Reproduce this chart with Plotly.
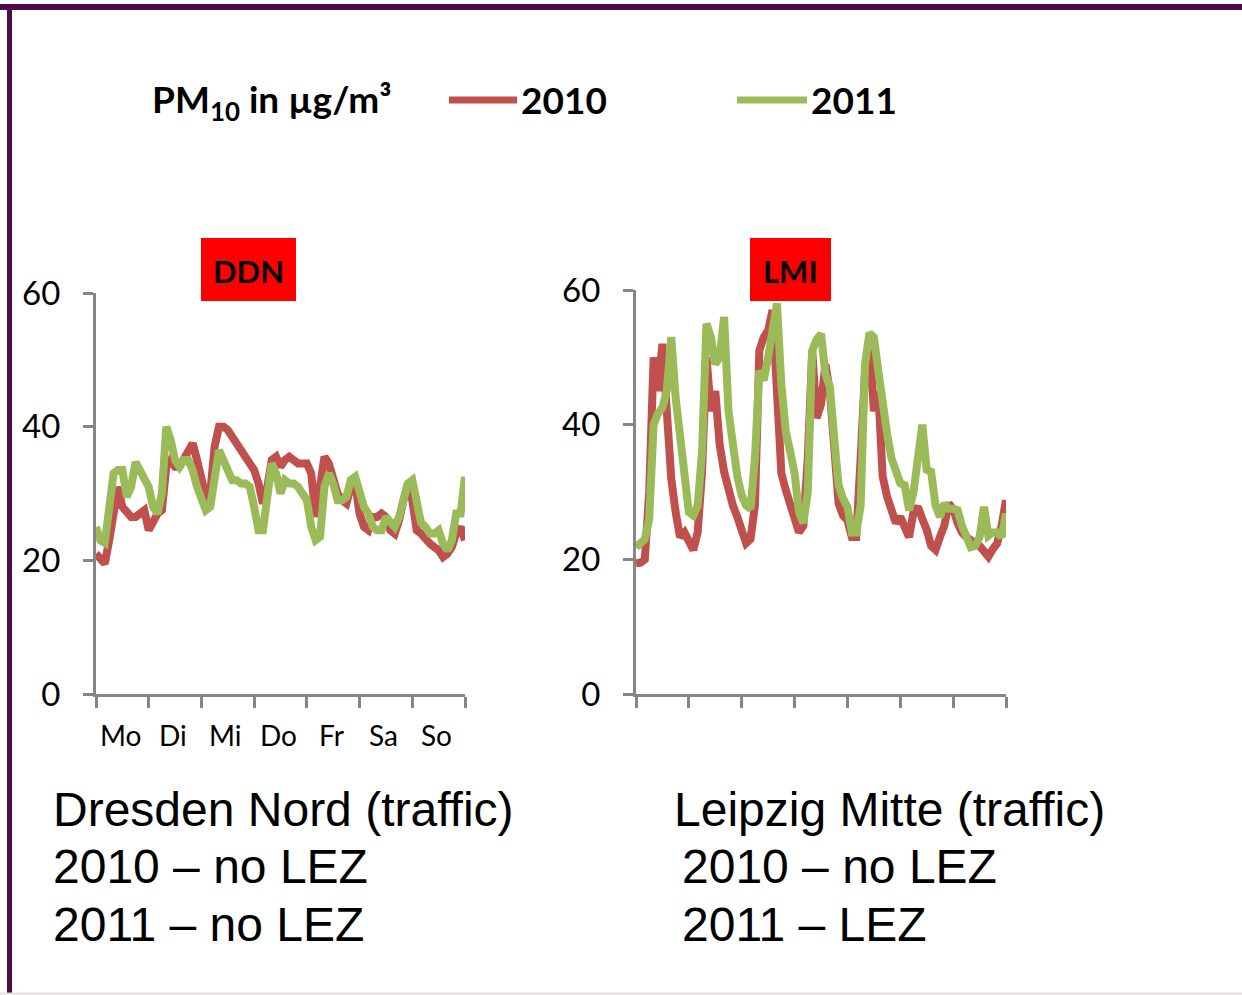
import plotly.graph_objects as go

W, H = 1242, 995

hours = list(range(0, 169, 2))
day_labels = ["Mo", "Di", "Mi", "Do", "Fr", "Sa", "So"]
day_centers = [12, 36, 60, 84, 108, 132, 156]
day_ticks = [0, 24, 48, 72, 96, 120, 144, 168]
y_ticks = [0, 20, 40, 60]

ddn_2010 = [21, 20, 19.5, 23, 28, 31, 28, 27, 26.5, 26.5,
            27, 27.5, 24.5, 26, 27, 27.5, 34, 35, 34, 34,
            35, 36.5, 37.5, 35, 32, 29.5, 30, 37, 40, 40,
            39.5, 38.5, 38, 37, 36, 35, 33.5, 31.5, 28.5, 31,
            35, 35.5, 34, 35, 35.5, 35, 34.5, 34.5, 34.5, 33,
            26.5, 31, 35.5, 34.5, 32, 30, 29, 28.5, 31, 31.5,
            27, 25, 24.5, 26.5, 26.5, 27, 26.5, 24.5, 24, 26,
            29, 31.5, 29, 24.5, 24, 23, 22.5, 22, 21.5, 20.5,
            21, 22, 24, 25, 23]
ddn_2011 = [25, 23, 22.6, 27, 33, 33.5, 33.5, 29.5, 31, 34.7,
            33.5, 32.5, 31, 28, 27, 30, 40, 38, 35, 34,
            35, 35, 33.5, 31, 29.5, 27.5, 28, 33, 36.5, 35,
            33.5, 32, 32, 31.5, 31.5, 31, 28, 24.5, 24.5, 30,
            34.5, 33, 30, 32, 31.5, 31.5, 31, 30, 29, 25,
            23, 23.5, 31, 33, 31.5, 29, 29, 29.5, 32, 32.5,
            30, 28, 27, 25, 24.5, 24.5, 26.5, 25.5, 25, 26.5,
            29, 31.5, 32, 28, 25.6, 25, 24, 24, 24.5, 22.5,
            21.5, 23, 27, 27, 32.5]
lmi_2010 = [19.4, 19.5, 20, 30, 50, 45, 52, 42, 32, 27,
            23.3, 24, 22.5, 21.4, 24, 33, 50, 42, 45, 37,
            33, 30.3, 28, 26.3, 24, 22.4, 23, 28, 51, 53,
            54, 57, 45, 32.8, 30.3, 28, 26.3, 24, 25, 35,
            51, 41, 43, 49, 45, 34.3, 28.3, 26.5, 25.8, 23.3,
            23.3, 35, 48, 52.6, 42, 45, 32.3, 29.3, 27, 25.4,
            26.3, 24.5, 23.3, 27, 27.8, 26, 24.4, 22, 21.4, 23.3,
            25, 28.3, 27.5, 25.4, 24, 23.3, 23, 22.4, 22, 21,
            20.4, 21.5, 22.4, 25, 28.8]
lmi_2011 = [21.8, 22.5, 23, 26, 40, 41.7, 42.5, 45, 53, 44,
            37.5, 33.7, 27, 26.5, 28, 36, 55, 53, 49, 50,
            56, 42, 37, 32.3, 29.5, 28, 27.5, 35, 48, 46.6,
            50, 54, 58, 46, 39, 36, 32.8, 27, 25.4, 30,
            51, 52.6, 53.5, 47.5, 45.6, 38, 31, 29, 27.8, 24,
            24, 28, 49, 53.6, 53, 48, 42.5, 38.7, 35, 33,
            31.3, 31, 27.3, 30, 35, 40, 33.3, 33, 28, 26.3,
            28.3, 27.5, 27.5, 27.3, 25, 23.3, 21.8, 22, 23.3, 27.8,
            23.5, 24, 24, 23.3, 26.8]

RED = "#C0504D"
GREEN = "#9BBB59"
AXIS = "#868686"
PURPLE = "#4F0B47"
LW = 8


def px(x):
    return x / W


def py(y):
    return 1 - y / H


fig = go.Figure()
for xs, ys, col, xa, ya in [(hours, ddn_2010, RED, "x", "y"), (hours, ddn_2011, GREEN, "x", "y"),
                            (hours, lmi_2010, RED, "x2", "y2"), (hours, lmi_2011, GREEN, "x2", "y2")]:
    fig.add_trace(go.Scatter(x=xs, y=ys, mode="lines",
                             line=dict(color=col, width=LW, shape="linear"),
                             xaxis=xa, yaxis=ya, showlegend=False, hoverinfo="skip"))

tickfont = dict(family="Lato, 'Open Sans', sans-serif", size=33, color="#000000")

xcommon = dict(range=[0, 168], tickvals=day_ticks, showticklabels=False, ticks="outside",
               ticklen=11, tickwidth=3, tickcolor=AXIS, showline=True, linecolor=AXIS,
               linewidth=3, showgrid=False, zeroline=False, fixedrange=True, automargin=False)
ycommon = dict(range=[0, 60], tickvals=y_ticks, ticks="outside", ticklen=10, tickwidth=3,
               tickcolor=AXIS, showline=True, linecolor=AXIS, linewidth=3, showgrid=False,
               zeroline=False, tickfont=tickfont, ticklabelstandoff=16, fixedrange=True,
               automargin=False)

fig.update_layout(
    template="none",
    width=W, height=H,
    margin=dict(l=0, r=0, t=0, b=0, pad=0, autoexpand=False),
    paper_bgcolor="white", plot_bgcolor="white",
    showlegend=False,
    xaxis=dict(domain=[px(96), px(465)], anchor="y", **xcommon),
    yaxis=dict(domain=[py(694), py(293)], anchor="x", **ycommon),
    xaxis2=dict(domain=[px(636), px(1006)], anchor="y2", **xcommon),
    yaxis2=dict(domain=[py(694), py(290)], anchor="x2", **ycommon),
)

shapes = []
annotations = []

# frame
shapes.append(dict(type="rect", xref="paper", yref="paper", x0=0, x1=1, y0=py(10), y1=py(4),
                   fillcolor=PURPLE, line=dict(width=0), layer="above"))
shapes.append(dict(type="rect", xref="paper", yref="paper", x0=px(7), x1=px(12), y0=py(993), y1=py(4),
                   fillcolor=PURPLE, line=dict(width=0), layer="above"))
shapes.append(dict(type="line", xref="paper", yref="paper", x0=0, x1=1, y0=py(993.5), y1=py(993.5),
                   line=dict(color="#E2DCE0", width=2)))

# legend
shapes.append(dict(type="line", xref="paper", yref="paper", x0=px(449), x1=px(517), y0=py(100), y1=py(100),
                   line=dict(color=RED, width=7)))
shapes.append(dict(type="line", xref="paper", yref="paper", x0=px(737), x1=px(807), y0=py(100), y1=py(100),
                   line=dict(color=GREEN, width=7)))
legfont = dict(family="Lato, 'Open Sans', sans-serif", size=37, color="#000000")
annotations.append(dict(xref="paper", yref="paper", x=px(150), y=py(101), xanchor="left", yanchor="middle",
                        text="<b>PM<sub>10</sub> in µg/m³</b>", showarrow=False, font=legfont))
annotations.append(dict(xref="paper", yref="paper", x=px(519), y=py(100), xanchor="left", yanchor="middle",
                        text="<b>2010</b>", showarrow=False, font=legfont))
annotations.append(dict(xref="paper", yref="paper", x=px(809), y=py(100), xanchor="left", yanchor="middle",
                        text="<b>2011</b>", showarrow=False, font=legfont))

# station boxes
boxfont = dict(family="Lato, 'Open Sans', sans-serif", size=31, color="#000000")
for (x0, x1, label) in [(201, 296, "DDN"), (750, 831, "LMI")]:
    shapes.append(dict(type="rect", xref="paper", yref="paper", x0=px(x0), x1=px(x1), y0=py(301), y1=py(238),
                       fillcolor="#FF0000", line=dict(width=0), layer="above"))
    annotations.append(dict(xref="paper", yref="paper", x=px((x0 + x1) / 2), y=py(271), xanchor="center",
                            yanchor="middle", text="<b>%s</b>" % label, showarrow=False, font=boxfont))

# day labels (left panel)
dayfont = dict(family="Lato, 'Open Sans', sans-serif", size=28, color="#000000")
for c, lab in zip(day_centers, day_labels):
    annotations.append(dict(xref="x", yref="paper", x=c - 1, y=py(735), xanchor="center", yanchor="middle",
                            text=lab, showarrow=False, font=dayfont))

# captions
capfont = dict(family="'Liberation Sans', Arial, sans-serif", size=48, color="#000000")
captions = [
    (51, 809, "Dresden Nord (traffic)"),
    (51, 866, "2010 – no LEZ"),
    (51, 924, "2011 – no LEZ"),
    (672, 809, "Leipzig Mitte (traffic)"),
    (680, 866, "2010 – no LEZ"),
    (680, 924, "2011 – LEZ"),
]
for x, y, t in captions:
    annotations.append(dict(xref="paper", yref="paper", x=px(x), y=py(y), xanchor="left", yanchor="middle",
                            text=t, showarrow=False, font=capfont))

fig.update_layout(shapes=shapes, annotations=annotations)

fig.write_html("out.html", config={"displayModeBar": False},
               post_script="document.body.style.margin='0';document.body.style.overflow='hidden';")
